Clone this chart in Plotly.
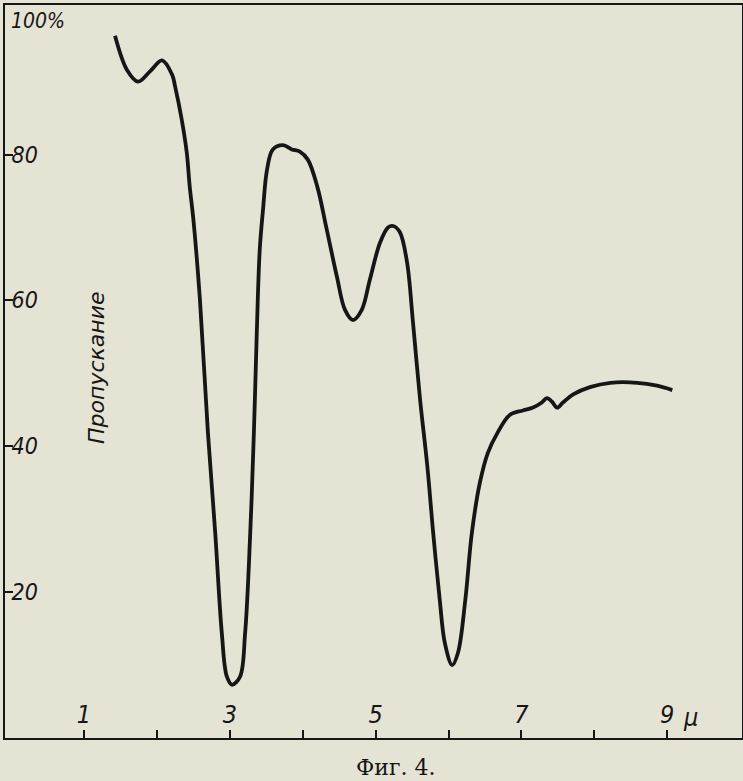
import plotly.graph_objects as go

# Wavelength (μ) and transmission (%)
wavelength = [1.425, 1.59, 1.74, 1.905, 2.07, 2.21, 2.25, 2.34, 2.41, 2.45, 2.50, 2.59, 2.70, 2.80,
              2.89, 2.96, 3.03, 3.14, 3.21, 3.28, 3.33, 3.37, 3.41, 3.455, 3.51, 3.59, 3.73, 3.85,
              3.96, 4.07, 4.20, 4.33, 4.47, 4.58, 4.69, 4.81, 4.92, 5.06, 5.17, 5.24, 5.33, 5.43,
              5.51, 5.61, 5.71, 5.79, 5.88, 5.95, 6.05, 6.13, 6.23, 6.32, 6.43, 6.54, 6.67, 6.84,
              7.02, 7.16, 7.28, 7.35, 7.42, 7.49, 7.57, 7.71, 7.94, 8.22, 8.59, 8.86, 9.07]
transmission = [96.3, 91.6, 90.0, 91.4, 92.9, 90.9, 89.3, 84.8, 80.2, 75.6, 71.1, 60.1, 41.8, 28.1,
                14.4, 8.4, 7.3, 8.4, 14.4, 28.1, 41.8, 55.6, 66.9, 72.4, 77.9, 80.7, 81.3, 80.7,
                80.4, 79.3, 75.6, 69.7, 63.2, 58.7, 57.3, 58.7, 62.8, 67.9, 70.0, 70.2, 69.4, 65.3,
                57.3, 46.4, 37.2, 28.1, 18.9, 13.0, 10.0, 11.7, 18.9, 28.1, 35.0, 39.1, 41.8, 44.3,
                44.9, 45.3, 46.0, 46.6, 46.1, 45.3, 46.0, 47.1, 48.1, 48.7, 48.7, 48.3, 47.7]

x_tick_vals = [1, 2, 3, 4, 5, 6, 7, 8, 9]
x_tick_text = ["1", "", "3", "", "5", "", "7", "", "9"]
y_tick_vals = [20, 40, 60, 80]
y_tick_text = ["20", "40", "60", "80"]

BG = "#e5e3d3"
INK = "#161616"
FONT = "DejaVu Sans Condensed, DejaVu Sans"

fig = go.Figure()
fig.add_trace(go.Scatter(
    x=wavelength, y=transmission, mode="lines",
    line=dict(color=INK, width=3.8, shape="spline", smoothing=1.0),
    showlegend=False, hoverinfo="skip"))

fig.update_xaxes(
    range=[-0.084, 10.026], showgrid=False, zeroline=False, automargin=False,
    showline=True, linecolor=INK, linewidth=2.2, mirror=True,
    ticks="inside", ticklen=8, tickwidth=1.6, tickcolor=INK,
    tickvals=x_tick_vals, ticktext=x_tick_text,
    ticklabelposition="inside", ticklabelstandoff=4,
    tickfont=dict(family=FONT, size=25, color=INK, style="italic"))
fig.update_yaxes(
    range=[0, 100.5], showgrid=False, zeroline=False, automargin=False,
    showline=True, linecolor=INK, linewidth=2.2, mirror=True,
    ticks="inside", ticklen=8, tickwidth=1.6, tickcolor=INK,
    tickvals=y_tick_vals, ticktext=y_tick_text,
    ticklabelposition="inside", ticklabelstandoff=0,
    tickfont=dict(family=FONT, size=23, color=INK, style="italic"))

fig.add_annotation(text="100%", xref="paper", yref="paper", x=0.005, y=0.978,
                   xanchor="left", yanchor="middle", showarrow=False,
                   font=dict(family=FONT, size=21, color=INK, style="italic"))
fig.add_annotation(text="Пропускание", xref="paper", yref="paper", x=0.125, y=0.505,
                   xanchor="center", yanchor="middle", textangle=-90, showarrow=False,
                   font=dict(family="DejaVu Sans, Noto Sans", size=22, color=INK, style="italic"))
fig.add_annotation(text="μ", xref="paper", yref="paper", x=0.930, y=0.028,
                   xanchor="center", yanchor="middle", showarrow=False,
                   font=dict(family=FONT, size=25, color=INK, style="italic"))
fig.add_annotation(text="Фиг. 4.", xref="paper", yref="paper", x=0.53, y=-0.04,
                   xanchor="center", yanchor="middle", showarrow=False,
                   font=dict(family="DejaVu Serif, Liberation Serif", size=22, color=INK))

fig.update_layout(
    width=743, height=781,
    margin=dict(l=5, r=1, t=5, b=43, pad=0),
    paper_bgcolor=BG, plot_bgcolor=BG,
    showlegend=False)

fig.write_html(
    "out.html",
    config={"displayModeBar": False},
    post_script="document.body.style.margin='0';document.body.style.background='" + BG + "';"
                "document.documentElement.style.overflow='hidden';")
